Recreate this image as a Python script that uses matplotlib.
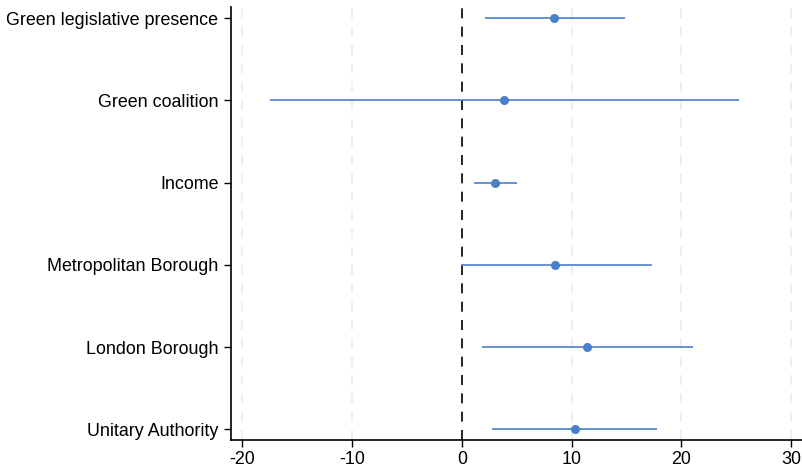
import numpy as np
import matplotlib
matplotlib.use("Agg")
from matplotlib import pyplot as plt

plt.rcParams['font.family'] = ['Liberation Sans', 'DejaVu Sans']

labels = ['Green legislative presence', 'Green coalition', 'Income',
          'Metropolitan Borough', 'London Borough', 'Unitary Authority']
coef = [8.4, 3.8, 3.0, 8.5, 11.4, 10.3]
lo = [2.1, -17.5, 1.1, -0.1, 1.8, 2.7]
hi = [14.9, 25.3, 5.0, 17.3, 21.1, 17.8]

blue = '#4a7fc9'
y_pos = np.arange(len(labels))[::-1] + 1

fig = plt.figure(figsize=(8.02, 4.71), dpi=100)
ax = fig.add_axes([0.288, 0.065, 0.712, 0.92])

ax.hlines(y_pos, lo, hi, color=blue, lw=1.2, zorder=3)
ax.plot(coef, y_pos, 'o', color=blue, ms=5.5, zorder=4)
ax.axvline(0, color='black', lw=1.2, ls=(0, (6, 5)), zorder=2)

xt = [-20, -10, 0, 10, 20, 30]
for x in xt:
    if x != 0:
        ax.axvline(x, color='#ebebeb', lw=1.2, ls=(0, (6, 5)), zorder=1)

ax.set_xlim(-21.05, 31.0)
ax.set_ylim(0.865, 6.135)
ax.set_xticks(xt)
ax.set_xticklabels([str(x) for x in xt])
ax.set_yticks(y_pos)
ax.set_yticklabels(labels)
ax.tick_params(axis='both', labelsize=12.9, length=5, width=1, direction='out', color='black')
ax.tick_params(axis='y', pad=4)
ax.tick_params(axis='x', pad=3)

for s in ['top', 'right']:
    ax.spines[s].set_visible(False)
for s in ['left', 'bottom']:
    ax.spines[s].set_linewidth(1.2)

fig.savefig('out.png', dpi=100)
